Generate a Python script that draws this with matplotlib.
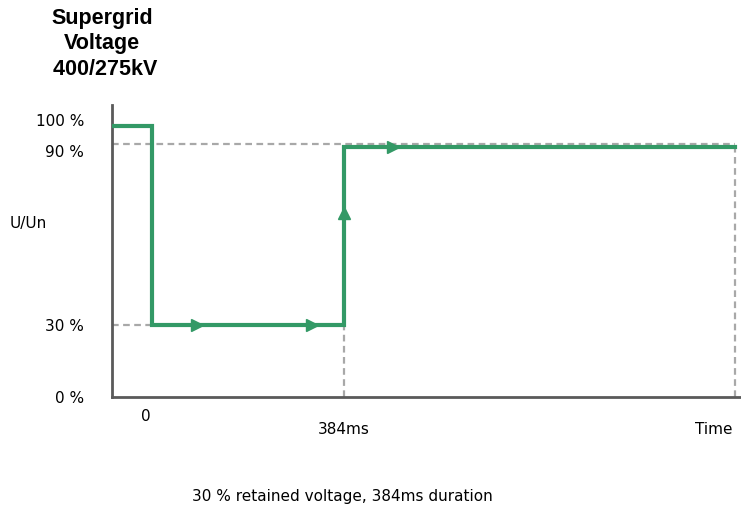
import numpy as np
import matplotlib
matplotlib.use("Agg")
import matplotlib.pyplot as plt
from matplotlib.transforms import ScaledTranslation

# ---- data ----
time_ms = [-80, 0, 0, 384, 384, 1166]
voltage_pct = [100, 100, 30, 30, 89, 89]
ytick_vals = [0, 30, 90, 100]
ytick_labels = ["0 %", "30 %", "90 %", "100 %"]
arrow_right_t = [90, 320, 482]
arrow_right_v = [30, 30, 89]
arrow_up_t = [384]
arrow_up_v = [67]
fault_end_ms = 384
sim_end_ms = 1166
retained_pct = 30
recovery_pct = 90

GREEN = "#339966"
DASH = "#a8a8a8"
AXIS = "#5a5a5a"

# schematic (non-linear) vertical scale
_vals = [-10, 0, 30, 90, 100, 120]
_pix = [-24, 0, 72, 253, 271, 307]
def fwd(v):
    return np.interp(v, _vals, _pix)
def inv(p):
    return np.interp(p, _pix, _vals)

plt.rcParams['font.family'] = ['DejaVu Sans']
FS = 11

fig = plt.figure(figsize=(7.41, 5.21), dpi=100)
ax = fig.add_axes([112/741, 124/521, 629/741, 292/521])
ax.set_yscale('function', functions=(fwd, inv))
ax.set_xlim(-80, 1178)
ax.set_ylim(0, inv(292))

# dashed guide lines
dk = dict(color=DASH, lw=1.6, ls=(0, (3, 2)), zorder=1)
ax.plot([-80, sim_end_ms], [recovery_pct, recovery_pct], **dk)
ax.plot([-80, 0], [retained_pct, retained_pct], **dk)
ax.plot([fault_end_ms, fault_end_ms], [0, retained_pct], **dk)
ax.plot([sim_end_ms, sim_end_ms], [0, recovery_pct], **dk)

# voltage trace
ax.plot(time_ms, voltage_pct, color=GREEN, lw=3.0, solid_joinstyle='miter', zorder=3)
ax.plot(arrow_right_t, arrow_right_v, ls='none', marker='>', ms=8, color=GREEN, zorder=4)
ax.plot(arrow_up_t, arrow_up_v, ls='none', marker='^', ms=8, color=GREEN, zorder=4)

for s in ['top', 'right']:
    ax.spines[s].set_visible(False)
for s in ['left', 'bottom']:
    ax.spines[s].set_color(AXIS)
    ax.spines[s].set_linewidth(2.0)

ax.set_yticks(ytick_vals)
ax.set_yticklabels(ytick_labels, fontsize=FS)
ax.set_xticks([])
ax.tick_params(axis='y', length=0, pad=20)
ax.yaxis.set_minor_locator(matplotlib.ticker.NullLocator())
# nudge the two crowded labels apart like the reference
offsets = {"100 %": 6, "90 %": -7}
for lab in ax.get_yticklabels():
    dy = offsets.get(lab.get_text(), 0)
    if dy:
        lab.set_transform(lab.get_transform() + ScaledTranslation(0, dy/100, fig.dpi_scale_trans))

# x labels
ax.text(-12, -0.04, "0", transform=ax.get_xaxis_transform(), ha='center', va='top', fontsize=FS)
ax.text(fault_end_ms, -0.085, "384ms", transform=ax.get_xaxis_transform(), ha='center', va='top', fontsize=FS)
fig.text(714/741, 1 - 430/521, "Time", ha='center', va='center', fontsize=FS)
fig.text(28/741, 1 - 224/521, "U/Un", ha='center', va='center', fontsize=FS)

fig.text(102/741, 1 - 44/521, "Supergrid\nVoltage\n 400/275kV", ha='center', va='center',
         fontsize=15.5, fontweight='bold', linespacing=1.3, family='Liberation Sans')
fig.text(342/741, 1 - 497/521, "30 % retained voltage, 384ms duration", ha='center', va='center', fontsize=FS)

fig.savefig("out.png", dpi=100)
